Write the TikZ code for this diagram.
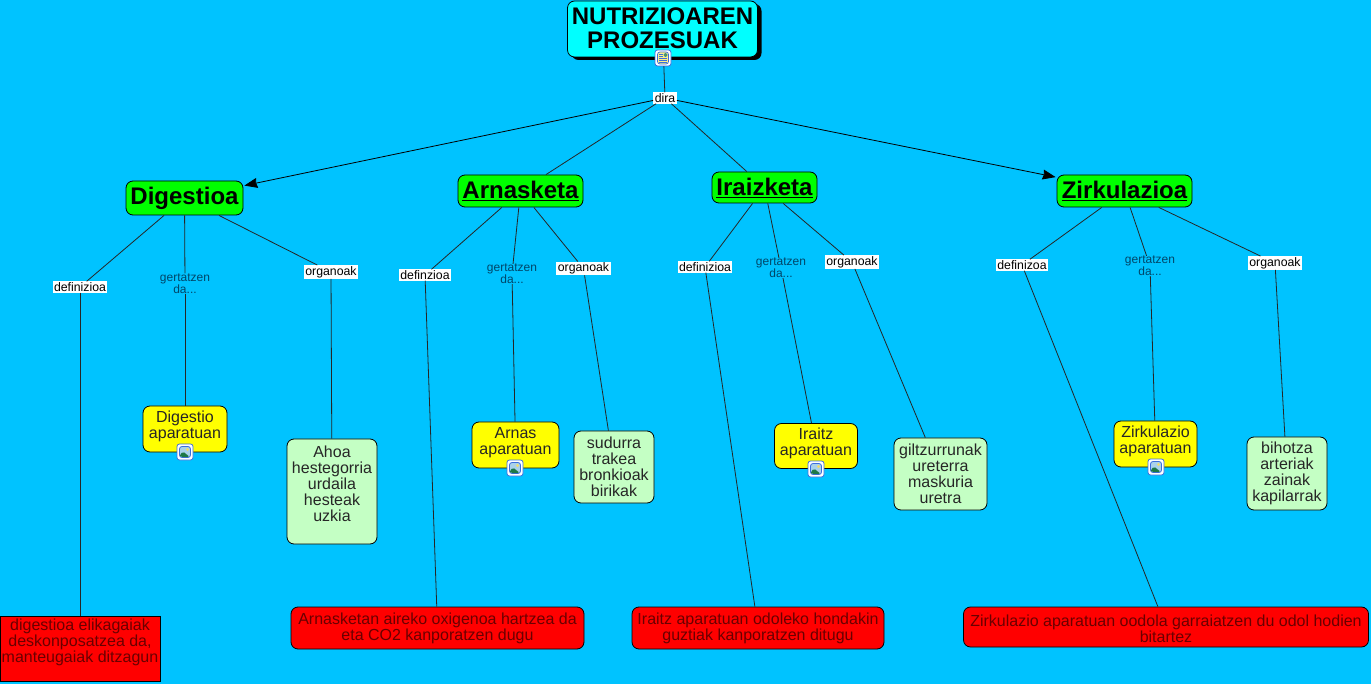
\documentclass[tikz,border=0pt]{standalone}
\usepackage{fontspec}
\setmainfont{Liberation Sans}
\usetikzlibrary{arrows.meta,shadows}
\definecolor{mapblue}{RGB}{0,195,255}
\definecolor{mapcyan}{RGB}{0,255,255}
\definecolor{mapgreen}{RGB}{0,255,0}
\definecolor{mapyellow}{RGB}{255,255,0}
\definecolor{mapred}{RGB}{255,0,0}
\definecolor{lightleaf}{RGB}{196,255,196}
\definecolor{redtext}{RGB}{105,0,0}
\definecolor{bluetext}{RGB}{0,70,105}
\definecolor{iconrim}{RGB}{60,110,220}
\definecolor{iconsky}{RGB}{170,210,235}
\definecolor{iconhill}{RGB}{30,120,70}
\definecolor{iconsun}{RGB}{240,220,110}
\definecolor{iconpage}{RGB}{250,240,140}
\newcommand{\liftup}{\rule[-8pt]{0pt}{8pt}}

\begin{document}
\begin{tikzpicture}[x=1pt,y=-1pt]
 \tikzstyle{arrow} = [-{Stealth[length=13pt,width=10pt,inset=1pt]},shorten >=1pt,line width=0.8pt];
 \tikzstyle{link} = [line width=0.8pt,draw=black!85];
 \tikzstyle{place} = [rectangle,rounded corners=7pt,draw=black,line width=0.8pt,inner sep=0pt,align=center,font=\fontsize{16}{16}\selectfont];
 \tikzstyle{placeT} = [place,fill=mapcyan,font=\fontsize{24}{24}\selectfont\bfseries,general shadow={fill=black,shadow xshift=4pt,shadow yshift=-3pt}];
 \tikzstyle{placeG} = [place,fill=mapgreen,font=\fontsize{24}{24}\selectfont\bfseries];
 \tikzstyle{placeY} = [place,fill=mapyellow,text=black!85];
 \tikzstyle{placeL} = [place,fill=lightleaf,text=black!85];
 \tikzstyle{placeR} = [place,fill=mapred,text=redtext];
 \tikzstyle{word} = [rectangle,fill=white,inner xsep=1.5pt,inner ysep=1pt,font=\fontsize{12.3}{12}\selectfont];
 \tikzstyle{wordF} = [rectangle,inner sep=0pt,align=center,text=bluetext,font=\fontsize{12}{12}\selectfont];
 \tikzstyle{icon} = [rectangle,rounded corners=2.5pt,draw=iconrim,fill=white,line width=0.8pt,minimum size=16pt,inner sep=0pt];
 \tikzstyle{iconImg} = [icon,path picture={
   \begin{scope}[shift={(path picture bounding box.center)}]
    \draw[fill=iconsky,line width=0.8pt] (-5.5,-5.5) rectangle (5.5,5.5);
    \fill[iconsun] (2.5,-2.5) circle (1.6);
    \fill[iconhill] (-5,5) -- (-5,2.5) -- (-2,-0.5) -- (1,2) -- (5,5) -- cycle;
   \end{scope}}];
 \tikzstyle{iconDoc} = [icon,path picture={
   \begin{scope}[shift={(path picture bounding box.center)}]
    \draw[fill=iconpage,line width=0.7pt] (-5.5,-6) rectangle (5.5,6);
    \fill[iconhill!70!iconsky] (0.5,-5) rectangle (4.5,-1);
    \draw[line width=0.7pt] (-4,-3.5) -- (-0.5,-3.5) (-4,-1.5) -- (-0.5,-1.5) (-4,0.5) -- (4,0.5) (-4,2.5) -- (4,2.5) (-4,4.5) -- (4,4.5);
   \end{scope}}];

 \fill[mapblue] (0,0) rectangle (1371,684);
 \useasboundingbox (0,0) rectangle (1371,684);

 \node[placeT,name=title,minimum width=190pt,minimum height=56pt] at (662.5,29) {NUTRIZIOAREN\\PROZESUAK\rule[-2pt]{0pt}{2pt}};
 \node[word,name=dira] at (665,98) {dira};

 \node[placeG,name=digestioa,minimum width=117pt,minimum height=34pt] at (184.5,198) {Digestioa};
 \node[placeG,name=arnasketa,minimum width=125pt,minimum height=32pt] at (520.5,191) {\underline{Arnasketa}};
 \node[placeG,name=iraizketa,minimum width=105pt,minimum height=31pt] at (764.5,187.5) {\underline{Iraizketa}};
 \node[placeG,name=zirkulazioa,minimum width=135pt,minimum height=32pt] at (1124.5,191) {\underline{Zirkulazioa}};

 \node[word,name=defD] at (80,287) {definizioa};
 \node[wordF,name=gerD] at (185,283.5) {gertatzen\\da...};
 \node[word,name=orgD] at (331,272) {organoak};
 \node[word,name=defA] at (425,275) {definzioa};
 \node[wordF,name=gerA] at (512,274) {gertatzen\\da...};
 \node[word,name=orgA] at (583.5,268.5) {organoak};
 \node[word,name=defI] at (705,267) {definizioa};
 \node[wordF,name=gerI] at (781,268) {gertatzen\\da...};
 \node[word,name=orgI] at (852,262) {organoak};
 \node[word,name=defZ] at (1022,265) {definizoa};
 \node[wordF,name=gerZ] at (1150,266) {gertatzen\\da...};
 \node[word,name=orgZ] at (1275,263) {organoak};

 \node[placeY,name=aparD,minimum width=84pt,minimum height=46pt] at (185,429) {Digestio\\aparatuan\liftup};
 \node[placeY,name=aparA,minimum width=87pt,minimum height=46pt] at (515.5,445) {Arnas\\aparatuan\liftup};
 \node[placeY,name=aparI,minimum width=83pt,minimum height=45pt] at (816,446) {Iraitz\\aparatuan\liftup};
 \node[placeY,name=aparZ,minimum width=83pt,minimum height=46pt] at (1155.5,444) {Zirkulazio\\aparatuan\liftup};

 \node[placeL,name=leafD,minimum width=90pt,minimum height=105pt] at (332,491.5) {Ahoa\\hestegorria\\urdaila\\hesteak~\\uzkia\\~};
 \node[placeL,name=leafA,minimum width=80pt,minimum height=72pt] at (614,467) {sudurra\\trakea\\bronkioak\\birikak};
 \node[placeL,name=leafI,minimum width=93pt,minimum height=72pt] at (940.5,474) {giltzurrunak\\ureterra\\maskuria\\uretra};
 \node[placeL,name=leafZ,minimum width=80pt,minimum height=73pt] at (1287,473.5) {bihotza\\arteriak\\zainak\\kapilarrak};

 \node[placeR,rounded corners=0pt,name=redD,minimum width=160pt,minimum height=65pt] at (80,648.5) {digestioa elikagaiak\\deskonposatzea da,\\manteugaiak ditzagun\\~};
 \node[placeR,name=redA,minimum width=293pt,minimum height=42pt] at (437.5,628) {Arnasketan aireko oxigenoa hartzea da\\eta CO2 kanporatzen dugu};
 \node[placeR,name=redI,minimum width=252pt,minimum height=42pt] at (758,628) {Iraitz aparatuan odoleko hondakin\\guztiak kanporatzen ditugu};
 \node[placeR,name=redZ,minimum width=405pt,minimum height=40pt] at (1166,627) {\rule{0pt}{15.5pt}Zirkulazio aparatuan oodola garraiatzen du odol hodien~\\bitartez};

 \draw[link] (title) -- (dira);
 \draw[arrow] (dira) -- (digestioa);
 \draw[link] (dira) -- (arnasketa);
 \draw[link] (dira) -- (iraizketa);
 \draw[arrow] (dira) -- (zirkulazioa);

 \draw[link] (digestioa) -- (defD);
 \draw[link] (digestioa) -- (gerD);
 \draw[link] (digestioa) -- (orgD);
 \draw[link] (defD) -- (redD);
 \draw[link] (gerD) -- (aparD);
 \draw[link] (orgD) -- (leafD);

 \draw[link] (arnasketa) -- (defA);
 \draw[link] (arnasketa) -- (gerA);
 \draw[link] (arnasketa) -- (orgA);
 \draw[link] (defA) -- (redA);
 \draw[link] (gerA) -- (aparA);
 \draw[link] (orgA) -- (leafA);

 \draw[link] (iraizketa) -- (defI);
 \draw[link] (iraizketa) -- (gerI);
 \draw[link] (iraizketa) -- (orgI);
 \draw[link] (defI) -- (redI);
 \draw[link] (gerI) -- (aparI);
 \draw[link] (orgI) -- (leafI);

 \draw[link] (zirkulazioa) -- (defZ);
 \draw[link] (zirkulazioa) -- (gerZ);
 \draw[link] (zirkulazioa) -- (orgZ);
 \draw[link] (defZ) -- (redZ);
 \draw[link] (gerZ) -- (aparZ);
 \draw[link] (orgZ) -- (leafZ);

 \node[iconDoc,name=iconT] at (663,58) {};
 \node[iconImg,name=iconD] at (185,452) {};
 \node[iconImg,name=iconA] at (515,468) {};
 \node[iconImg,name=iconI] at (816,469) {};
 \node[iconImg,name=iconZ] at (1156,467) {};

\end{tikzpicture}
\end{document}
